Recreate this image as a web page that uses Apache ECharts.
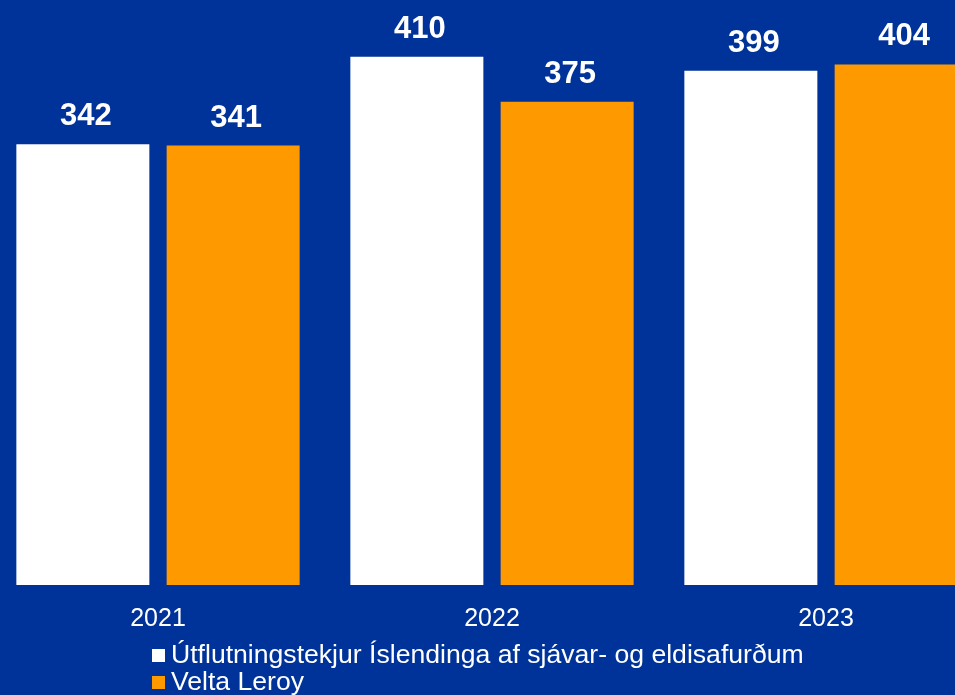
<!DOCTYPE html>
<html>
<head>
<meta charset="utf-8">
<script src="https://cdn.jsdelivr.net/npm/echarts@6/dist/echarts.min.js"></script>
<style>
  html, body { margin: 0; padding: 0; background: #003399; overflow: hidden; }
  /* the plot runs past the right edge in the original, so the canvas is wider and shifted */
  #main { width: 1010px; height: 695px; margin-left: -9px; }
</style>
</head>
<body>
<div id="main"></div>
<script>
var years = ['2021', '2022', '2023'];
var seriesNames = ['Útflutningstekjur Íslendinga af sjávar- og eldisafurðum', 'Velta Leroy'];
var exportValues = [342, 410, 399];
var leroyValues = [341, 375, 404];

var labelStyle = {
  show: true,
  position: 'top',
  distance: 12,
  offset: [3, 0],
  color: '#ffffff',
  fontFamily: 'Liberation Sans, Arial, sans-serif',
  fontWeight: 'bold',
  fontSize: 31
};

var option = {
  backgroundColor: '#003399',
  animation: false,
  grid: {
    left: 0,
    top: 0,
    width: 1002,
    height: 585
  },
  legend: {
    orient: 'vertical',
    left: 161,
    top: 642,
    height: 60,
    padding: 0,
    itemWidth: 13,
    itemHeight: 13,
    itemGap: 0,
    icon: 'rect',
    data: seriesNames,
    textStyle: {
      color: '#ffffff',
      fontFamily: 'Liberation Sans, Arial, sans-serif',
      fontSize: 26.6,
      lineHeight: 27,
      padding: [0, 0, 0, 1]
    }
  },
  xAxis: {
    type: 'category',
    data: years,
    axisLine: { show: false },
    axisTick: { show: false },
    axisLabel: {
      color: '#ffffff',
      fontFamily: 'Liberation Sans, Arial, sans-serif',
      fontSize: 25,
      margin: 22
    }
  },
  yAxis: {
    type: 'value',
    show: false,
    min: 0,
    max: 454
  },
  series: [
    {
      name: seriesNames[0],
      type: 'bar',
      data: exportValues,
      barWidth: 133,
      barGap: '13%',
      itemStyle: { color: '#ffffff' },
      label: labelStyle
    },
    {
      name: seriesNames[1],
      type: 'bar',
      data: leroyValues,
      barWidth: 133,
      itemStyle: { color: '#ff9900' },
      label: labelStyle
    }
  ]
};

var chart = echarts.init(document.getElementById('main'));
chart.setOption(option);
</script>
</body>
</html>
